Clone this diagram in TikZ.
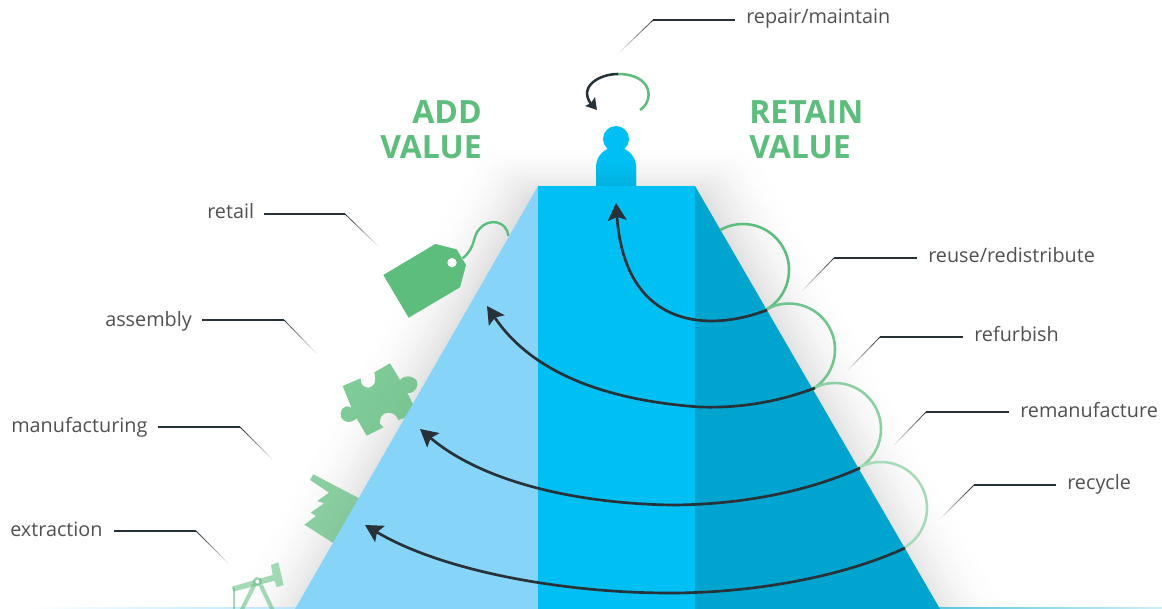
\documentclass[tikz,border=0pt]{standalone}
\usepackage{fontspec}
\setmainfont{Open Sans}
\usetikzlibrary{calc,arrows.meta}
\definecolor{pl}{HTML}{87D4F9}
\definecolor{pm}{HTML}{00BFF3}
\definecolor{pr}{HTML}{00A5CF}
\definecolor{gr}{HTML}{5CBD7C}
\definecolor{dk}{HTML}{263238}
\definecolor{tx}{HTML}{505050}
\tikzset{
  lab/.style={font=\fontsize{14.85pt}{17pt}\selectfont,text=tx,inner sep=0pt},
  big/.style={font=\fontsize{24pt}{27pt}\selectfont\bfseries,text=gr,inner sep=0pt},
  loopline/.style={line width=1.9pt},
  flow/.style={draw=dk,line width=2pt},
  headtip/.style={-{Stealth[length=13pt,width=14pt,inset=2.5pt]}},
  zoomA/.style={shift={(330,200)},x=.25pt,y=-.25pt},
  zoomB/.style={shift={(200,450)},x=.25pt,y=-.25pt},
}
\newcommand{\leaderline}[3]{%
  \draw[dk,line width=1pt] (#1) -- (#2);
  \foreach \t in {0,...,11}{
    \pgfmathsetmacro{\ta}{\t/12}\pgfmathsetmacro{\tb}{(\t+1)/12}\pgfmathsetmacro{\op}{1-\t/12}
    \draw[dk,line width=.6pt,opacity=\op] ($(#2)!\ta!(#3)$) -- ($(#2)!\tb!(#3)$);
  }}
\begin{document}
\begin{tikzpicture}[x=.75pt,y=-.75pt]
\useasboundingbox (0,0) rectangle (1162,609);
\clip (0,0) rectangle (1162,609);
% soft shadow
\foreach \d in {78,76,...,2}{
  \pgfmathsetmacro{\p}{15*(1-\d/80)*(1-\d/80)}
  \pgfmathsetmacro{\ax}{538-.8*\d}\pgfmathsetmacro{\bx}{695+.8*\d}
  \pgfmathsetmacro{\ty}{198-.7*\d}\pgfmathsetmacro{\lx}{295-1.15*\d}\pgfmathsetmacro{\rx}{940+1.15*\d}
  \fill[black!\p!white,rounded corners=10pt] (\lx,640) -- (\ax,\ty) -- (\bx,\ty) -- (\rx,640) -- cycle;
}
% ground strips
\fill[white] (0,607) rectangle (1162,609);
\shade[left color=white,right color=pl!60!white] (25,607) rectangle (300,609);
\shade[left color=pr!65!white,right color=pr!18!white] (935,607) rectangle (1162,609);
% icons
\begin{scope}[zoomA]
\fill[gr] (160,225) -- (316,132) -- (380,148) -- (408,195) -- (390,262) -- (236,353) -- cycle;
\fill[white] (366,188) circle[radius=14];
\draw[gr,line width=1.8pt] (398,175) .. controls (440,140) and (425,110) .. (450,85) .. controls (475,55) and (530,60) .. (535,108);
\fill[gr,opacity=.78] (38,558) -- (92,535) .. controls (86,572) and (150,578) .. (133,517) -- (180,490) -- (210,540)
  .. controls (225,520) and (265,530) .. (262,553) .. controls (260,575) and (240,582) .. (232,578) -- (245,605) -- (265,640) -- (205,660)
  .. controls (195,628) and (145,630) .. (150,672) -- (160,682) -- (110,707) -- (80,655)
  .. controls (60,675) and (30,665) .. (32,640) .. controls (35,615) and (60,615) .. (65,625) -- cycle;
\end{scope}
\begin{scope}[zoomB]
\fill[gr,opacity=.7] (340,73) -- (495,154) -- (420,292) -- (313,224) -- (348,198) -- (332,188) -- (372,160) -- (352,153) -- (387,128) -- (330,90) -- cycle;
\begin{scope}[opacity=.55]
\fill[gr] (95,410) -- (218,375) -- (213,345) -- (235,337) -- (251,405) -- (230,412) -- (224,392) -- (100,425) -- cycle;
\fill[gr] (172,395) circle[radius=14];
\draw[gr,line width=3pt] (163,405) -- (125,480) (182,405) -- (218,480);
\draw[gr,line width=1.4pt] (102,415) -- (102,480);
\end{scope}
\fill[white] (172,395) circle[radius=6];
\end{scope}
% pyramid
\fill[pl] (538,186) -- (295,609) -- (538,609) -- cycle;
\fill[pm] (538,186) rectangle (695,609);
\fill[pr] (695,186) -- (940,609) -- (695,609) -- cycle;
% person
\fill[pm] (616,139) circle[radius=13];
\fill[pm] (596,186) -- (596,167) arc[start angle=180,end angle=360,radius=20] -- (636,186) -- cycle;
\shade[top color=pm!90!pr,bottom color=pr!55!pm] (596,166) rectangle (636,186);
% loops
\draw[gr,loopline] (743,270) ++(-120:46) arc[start angle=-120,end angle=60,radius=46];
\draw[gr!88!white,loopline] (789,349.5) ++(-120:46) arc[start angle=-120,end angle=60,radius=46];
\draw[gr!72!white,loopline] (835,429) ++(-120:46) arc[start angle=-120,end angle=60,radius=46];
\draw[gr!55!white,loopline] (881,508) ++(-120:46) arc[start angle=-120,end angle=60,radius=46];
% flows
\draw[flow,headtip] (767,310) .. controls (710,332) and (625,330) .. (616,203);
\draw[flow,headtip] (815,388) .. controls (770,405) and (730,408) .. (700,407) .. controls (600,400) and (530,370) .. (487,306);
\draw[flow,headtip] (860,468) .. controls (800,495) and (730,505) .. (670,505) .. controls (570,503) and (480,480) .. (420,429);
\draw[flow,headtip] (905,548) .. controls (840,578) and (750,593) .. (670,593) .. controls (560,593) and (440,570) .. (365,525);
% repair loop
\draw[gr,line width=1.9pt] (640,110) .. controls (655,100) and (652,74) .. (618,74);
\draw[dk,line width=1.9pt] (618,74) .. controls (600,74) and (578,86) .. (591,104);
\fill[dk] (585,106) -- (597,110) -- (595,97) -- (591,103) -- cycle;
% titles
\node[big,anchor=east] (addA) at (482,112.5) {ADD};
\node[big,anchor=east] (addB) at (482,147.5) {VALUE};
\node[big,anchor=west] (retA) at (749,112.5) {RETAIN};
\node[big,anchor=west] (retB) at (749,147.5) {VALUE};
% labels
\node[lab,anchor=base west] (repair) at (746,24) {repair/maintain};
\node[lab,anchor=base west] (retail) at (207,219) {retail};
\node[lab,anchor=base west] (assembly) at (105,326) {assembly};
\node[lab,anchor=base west] (manuf) at (11,432) {manufacturing};
\node[lab,anchor=base west] (extr) at (10,536) {extraction};
\node[lab,anchor=base west] (reuse) at (928,263) {reuse/redistribute};
\node[lab,anchor=base west] (refurb) at (974,341) {refurbish};
\node[lab,anchor=base west] (reman) at (1020,417) {remanufacture};
\node[lab,anchor=base west] (recyc) at (1067,489) {recycle};
% leaders
\coordinate (a1) at (735,20); \coordinate (b1) at (653,20); \coordinate (c1) at (620,52);
\coordinate (a2) at (264,214); \coordinate (b2) at (345,214); \coordinate (c2) at (378,246);
\coordinate (a3) at (202,320); \coordinate (b3) at (284,320); \coordinate (c3) at (316,353);
\coordinate (a4) at (158,427); \coordinate (b4) at (240,427); \coordinate (c4) at (272,459);
\coordinate (a5) at (114,531); \coordinate (b5) at (196,531); \coordinate (c5) at (228,563);
\coordinate (a6) at (917,258); \coordinate (b6) at (834,258); \coordinate (c6) at (802,291);
\coordinate (a7) at (963,337); \coordinate (b7) at (880,337); \coordinate (c7) at (848,370);
\coordinate (a8) at (1009,412); \coordinate (b8) at (926,412); \coordinate (c8) at (894,445);
\coordinate (a9) at (1056,485); \coordinate (b9) at (974,485); \coordinate (c9) at (941,518);
\leaderline{a1}{b1}{c1}
\leaderline{a2}{b2}{c2}
\leaderline{a3}{b3}{c3}
\leaderline{a4}{b4}{c4}
\leaderline{a5}{b5}{c5}
\leaderline{a6}{b6}{c6}
\leaderline{a7}{b7}{c7}
\leaderline{a8}{b8}{c8}
\leaderline{a9}{b9}{c9}
\end{tikzpicture}
\end{document}
